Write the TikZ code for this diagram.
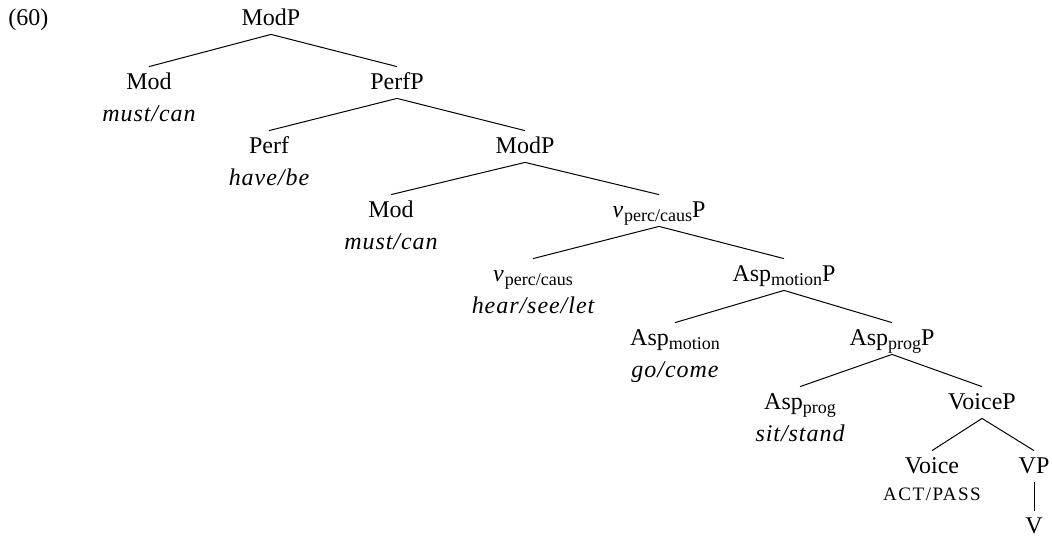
\documentclass[12pt,tikz,border=0pt]{standalone}
\usepackage{fontspec}
\setmainfont{Liberation Serif}[ItalicFeatures={LetterSpace=4}]
\newfontfamily\capsfont{Liberation Serif}[LetterSpace=8]
\usetikzlibrary{positioning}
\newcommand{\lowsub}[1]{\raisebox{-2pt}{\fontsize{9}{10}\selectfont #1}}
\newcommand{\fakesc}[1]{{\capsfont\fontsize{9.5}{11}\selectfont #1}}
\tikzset{
    phrase/.style={inner sep=3pt, anchor=base, text height=8pt, text depth=1.5pt},
    head/.style={inner sep=3pt, anchor=base, text height=8pt},
    lexitem/.style={inner sep=0pt, font=\itshape},
    branch/.style={line width=0.5pt},
}

\begin{document}
\begin{tikzpicture}[x=0.5pt, y=-0.5pt]
    \useasboundingbox (0,0) rectangle (1052,537);

    % example number
    \node[anchor=base west, inner sep=0pt] (exnum) at (8,25) {(60)};

    % ModP
    \node[phrase] (modp) at (271,25) {ModP};
    \node[head] (mod) at (149,89) {Mod};
    \node[lexitem, below=16pt of mod.base, anchor=base] (modlex) {must/can};
    \node[phrase] (perfp) at (397,89) {PerfP};

    % PerfP
    \node[head] (perf) at (269,153) {Perf};
    \node[lexitem, below=16pt of perf.base, anchor=base] (perflex) {have/be};
    \node[phrase] (modpb) at (525,153) {ModP};

    % lower ModP
    \node[head] (modb) at (391,217) {Mod};
    \node[lexitem, below=16pt of modb.base, anchor=base] (modblex) {must/can};
    \node[phrase] (vpercp) at (659,217) {\textit{v}\lowsub{perc/caus}P};

    % vP
    \node[head] (vperc) at (533,281) {\textit{v}\lowsub{perc/caus}};
    \node[lexitem, below=16pt of vperc.base, anchor=base] (vperclex) {hear/see/let};
    \node[phrase] (aspmotp) at (784,281) {Asp\lowsub{motion}P};

    % Asp motion
    \node[head] (aspmot) at (675,345) {Asp\lowsub{motion}};
    \node[lexitem, below=16pt of aspmot.base, anchor=base] (aspmotlex) {go/come};
    \node[phrase] (aspprogp) at (892,345) {Asp\lowsub{prog}P};

    % Asp prog
    \node[head] (aspprog) at (800,409) {Asp\lowsub{prog}};
    \node[lexitem, below=16pt of aspprog.base, anchor=base] (aspproglex) {sit/stand};
    \node[phrase] (voicep) at (982,409) {VoiceP};

    % VoiceP
    \node[head] (voice) at (932,473) {Voice};
    \node[inner sep=0pt, below=13.5pt of voice.base, anchor=base] (voicelex) {\fakesc{ACT/PASS}};
    \node[phrase] (vp) at (1034,473) {VP};
    \node[head] (verb) at (1034,533) {V};

    % Branches
    \draw[branch] (modp.south) -- (mod.north);
    \draw[branch] (modp.south) -- (perfp.north);
    \draw[branch] (perfp.south) -- (perf.north);
    \draw[branch] (perfp.south) -- (modpb.north);
    \draw[branch] (modpb.south) -- (modb.north);
    \draw[branch] (modpb.south) -- (vpercp.north);
    \draw[branch] (vpercp.south) -- (vperc.north);
    \draw[branch] (vpercp.south) -- (aspmotp.north);
    \draw[branch] (aspmotp.south) -- (aspmot.north);
    \draw[branch] (aspmotp.south) -- (aspprogp.north);
    \draw[branch] (aspprogp.south) -- (aspprog.north);
    \draw[branch] (aspprogp.south) -- (voicep.north);
    \draw[branch] (voicep.south) -- (voice.north);
    \draw[branch] (voicep.south) -- (vp.north);
    \draw[branch] (vp.south) -- (verb.north);

\end{tikzpicture}
\end{document}
